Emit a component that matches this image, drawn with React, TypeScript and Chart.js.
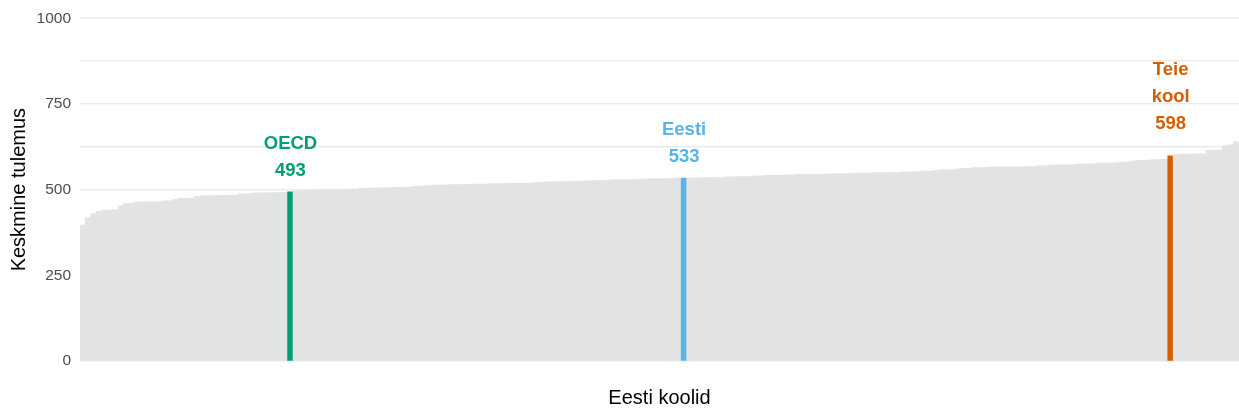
import React, { useEffect, useRef } from "react";
import { Chart, registerables } from "chart.js";

Chart.register(...registerables);

// Mean scores of Estonian schools, sorted ascending (OECD and Estonia averages included as reference bars)
const scores: number[] = [
  396, 418, 430, 436,
  440, 440, 441,
  452,
  459, 460,
  463, 464, 464, 464, 465,
  467, 467,
  471,
  474, 474, 475,
  480,
  482, 482, 483, 483, 483, 484, 484,
  487, 487,
  489,
  490, 490, 490, 491, 491, 492,
  493,
  496, 497, 497, 498, 498, 499, 499, 500, 500, 500, 501, 501,
  503, 504, 504, 505, 505, 505, 506, 506, 507, 507,
  509, 510, 511, 512,
  513, 513, 514, 514, 514, 515, 515,
  516, 516, 516, 517, 517, 517, 518, 518, 518, 518,
  519, 520, 521,
  522, 522, 523, 523, 523, 524, 524,
  525, 525, 526, 526, 527,
  528, 528, 529, 529, 529, 530, 530,
  531, 531, 532, 532, 532,
  533,
  533,
  534, 534, 534, 535, 535, 535, 535,
  537, 537, 538, 538, 538,
  540, 540, 541, 541, 541, 541,
  543, 543, 544, 544, 544, 544, 544,
  545, 546, 546, 546, 546, 547,
  548, 548, 548, 549, 549, 549, 549, 549,
  551, 551, 552, 552,
  554, 554, 555,
  557, 557, 558,
  560, 561,
  562,
  564, 564, 564, 565, 565, 566, 566, 566, 566, 566, 567, 567,
  569, 569,
  571, 571, 572, 572, 572,
  574, 574, 575, 575,
  577, 577, 577,
  578,
  580, 580,
  583, 584, 585, 586, 587, 588, 588,
  598,
  602, 603, 603, 603, 604, 604,
  614, 615, 615,
  628, 630,
  639,
];

const categories: string[] = scores.map((_, i) => `Kool ${i + 1}`);

const markerNames: string[][] = [["OECD"], ["Eesti"], ["Teie", "kool"]];
const markerValues: number[] = [493, 533, 598];
const markerIndex: number[] = [38, 110, 199];

const yTickLabels: number[] = [0, 250, 500, 750, 1000];
const yAxisTitle = "Keskmine tulemus";
const xAxisTitle = "Eesti koolid";

const markerColors = ["#009E73", "#56B4E9", "#D55E00"];
const labelGap = [22.4, 23, 34];
const lineStep = 27;
const grayBar = "#e3e3e3";
const FONT = "'Liberation Sans', Arial, Helvetica, sans-serif";

const markerLabelPlugin = {
  id: "markerLabels",
  afterDatasetsDraw(chart: any) {
    const { ctx, scales } = chart;
    const xs = scales.x;
    const ys = scales.y;
    const size = 18.5;
    ctx.save();
    ctx.font = `bold ${size}px ${FONT}`;
    ctx.textAlign = "center";
    ctx.textBaseline = "alphabetic";
    markerIndex.forEach((idx, k) => {
      const px = xs.getPixelForValue(idx);
      const top = ys.getPixelForValue(markerValues[k]);
      const lines = [...markerNames[k], String(markerValues[k])];
      ctx.fillStyle = markerColors[k];
      const lastCenter = top - labelGap[k];
      lines.forEach((line, j) => {
        const center = lastCenter - (lines.length - 1 - j) * lineStep;
        ctx.fillText(line, px, center + 0.358 * size);
      });
    });
    ctx.restore();
  },
};

export default function App() {
  const canvasRef = useRef<HTMLCanvasElement | null>(null);

  useEffect(() => {
    const canvas = canvasRef.current;
    if (!canvas) return;
    const colors = scores.map((_, i) => {
      const k = markerIndex.indexOf(i);
      return k >= 0 ? markerColors[k] : grayBar;
    });
    const chart = new Chart(canvas, {
      type: "bar",
      data: {
        labels: categories,
        datasets: [
          {
            data: scores,
            backgroundColor: colors,
            borderWidth: 0,
            barPercentage: 1,
            categoryPercentage: 1,
            inflateAmount: 0.5,
          } as any,
        ],
      },
      options: {
        animation: false,
        responsive: false,
        maintainAspectRatio: false,
        layout: { padding: { top: 17.5, left: 0, right: 0, bottom: 0 } },
        plugins: {
          legend: { display: false },
          tooltip: { enabled: false },
        },
        scales: {
          x: {
            type: "category",
            grid: { display: false, drawTicks: false },
            border: { display: false },
            ticks: { display: false },
            title: {
              display: true,
              text: xAxisTitle,
              color: "#000000",
              font: { family: FONT, size: 20 },
              padding: { top: 20, bottom: 3 },
            },
            afterFit: (scale: any) => {
              scale.height = 52;
            },
          },
          y: {
            min: 0,
            max: 1000,
            grid: { color: "#ebebeb", lineWidth: 1.6, drawTicks: false },
            border: { display: false },
            ticks: {
              stepSize: 125,
              padding: 9,
              color: "#4d4d4d",
              font: { family: FONT, size: 15.5 },
              callback: (v: any) => (yTickLabels.includes(Number(v)) ? String(v) : ""),
            },
            title: {
              display: true,
              text: yAxisTitle,
              color: "#000000",
              font: { family: FONT, size: 20 },
              padding: { top: 7, bottom: 4 },
            },
            afterFit: (scale: any) => {
              scale.width = 80;
            },
          },
        },
      },
      plugins: [markerLabelPlugin],
    });
    return () => chart.destroy();
  }, []);

  return (
    <div style={{ position: "fixed", left: 0, top: 0, width: 1239, height: 413, background: "#ffffff" }}>
      <canvas ref={canvasRef} width={1239} height={413} style={{ display: "block" }} />
    </div>
  );
}
